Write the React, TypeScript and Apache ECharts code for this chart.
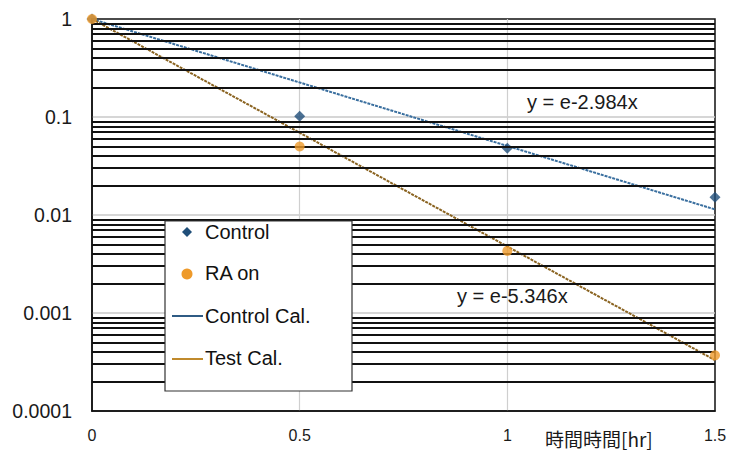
import React, { useEffect, useRef } from "react";
import * as echarts from "echarts";

const hours = [0, 0.5, 1, 1.5];
const controlValues = [1, 0.102, 0.048, 0.0152];
const raOnValues = [1, 0.05, 0.0043, 0.00037];
const controlFitX = [0, 1.5];
const controlFitY = [1, 0.0114];
const testFitX = [0, 1.5];
const testFitY = [1, 0.00033];
const yTickLabels = ["1", "0.1", "0.01", "0.001", "0.0001"];
const xTickLabels = ["0", "0.5", "1", "1.5"];
const minorMultipliers = [2, 3, 4, 5, 6, 7, 8, 9];
const decades = [0.0001, 0.001, 0.01, 0.1];
const controlEquation = "y = e-2.984x";
const testEquation = "y = e-5.346x";
const xTitle = "時間時間[hr]";
const legendNames = ["Control", "RA on", "Control Cal.", "Test Cal."];

const FONT = "Liberation Sans, Arial, sans-serif";

export default function App() {
  const ref = useRef<HTMLDivElement>(null);
  useEffect(() => {
    if (!ref.current) return;
    const chart = echarts.init(ref.current, undefined, { renderer: "svg" });
    const minorLines: { yAxis: number }[] = [];
    decades.forEach((d) =>
      minorMultipliers.forEach((m) => minorLines.push({ yAxis: +(d * m).toPrecision(2) }))
    );

    const fmtY = (v: number) => {
      const s = Number(v.toPrecision(1)).toString();
      return yTickLabels.includes(s) ? s : "";
    };

    const option: any = {
      animation: false,
      backgroundColor: "#ffffff",
      grid: {
        left: 92,
        right: 22,
        top: 19,
        bottom: 39,
        show: true,
        borderColor: "#111",
        borderWidth: 1.5,
        backgroundColor: "transparent",
      },
      xAxis: {
        type: "value",
        min: 0,
        max: 1.5,
        interval: 0.5,
        axisLine: { show: true, lineStyle: { color: "#111", width: 1.5 } },
        axisTick: { show: false },
        axisLabel: {
          margin: 16,
          fontSize: 16,
          fontFamily: FONT,
          color: "#1a1a1a",
          formatter: (v: number) => xTickLabels[Math.round(v / 0.5)] ?? String(v),
        },
        splitLine: {
          show: true,
          showMinLine: false,
          showMaxLine: false,
          lineStyle: { color: "#cfcfcf", width: 1.2 },
        },
      },
      yAxis: {
        type: "log",
        logBase: 10,
        min: 0.0001,
        max: 1,
        axisLine: { show: true, lineStyle: { color: "#111", width: 1.5 } },
        axisTick: { show: false },
        axisLabel: {
          margin: 20,
          fontSize: 19.5,
          fontFamily: FONT,
          color: "#1a1a1a",
          formatter: fmtY,
        },
        splitLine: {
          show: true,
          showMinLine: false,
          showMaxLine: false,
          lineStyle: { color: "#c8c8c8", width: 1.5 },
        },
      },
      series: [
        {
          name: "minor",
          type: "line",
          data: [
            [0, 1],
            [1.5, 0.0001],
          ],
          z: 1,
          silent: true,
          showSymbol: false,
          lineStyle: { opacity: 0 },
          markLine: {
            silent: true,
            precision: 10,
            symbol: ["none", "none"],
            label: { show: false },
            lineStyle: { color: "#111", width: 1.8, type: "solid" },
            emphasis: { disabled: true },
            data: minorLines,
          },
        },
        {
          name: "Control Cal.",
          type: "line",
          z: 3,
          showSymbol: false,
          data: controlFitX.map((x, i) => [x, controlFitY[i]]),
          lineStyle: { color: "#3a6f9f", width: 2, type: [3, 1] },
        },
        {
          name: "Test Cal.",
          type: "line",
          z: 3,
          showSymbol: false,
          data: testFitX.map((x, i) => [x, testFitY[i]]),
          lineStyle: { color: "#8a6320", width: 2, type: [3, 1] },
        },
        {
          name: "Control",
          type: "scatter",
          z: 4,
          symbol: "diamond",
          symbolSize: 11,
          itemStyle: { color: "#1f4e79" },
          data: hours.map((x, i) => [x, controlValues[i]]),
        },
        {
          name: "RA on",
          type: "scatter",
          z: 5,
          symbol: "circle",
          symbolSize: 10,
          itemStyle: { color: "#ee9a2a" },
          data: hours.map((x, i) => [x, raOnValues[i]]),
        },
      ],
      graphic: [
        {
          type: "text",
          x: 527,
          y: 102,
          z: 10,
          style: {
            text: controlEquation,
            font: `20px ${FONT}`,
            fill: "#1a1a1a",
            verticalAlign: "middle",
          },
        },
        {
          type: "text",
          x: 457,
          y: 296,
          z: 10,
          style: {
            text: testEquation,
            font: `20px ${FONT}`,
            fill: "#1a1a1a",
            verticalAlign: "middle",
          },
        },
        {
          type: "text",
          x: 545,
          y: 438,
          z: 10,
          style: {
            text: xTitle,
            font: `19px "Noto Sans CJK JP", sans-serif`,
            fill: "#1a1a1a",
            verticalAlign: "middle",
          },
        },
        {
          type: "group",
          z: 20,
          children: [
            {
              type: "rect",
              shape: { x: 165, y: 221, width: 187, height: 170 },
              style: { fill: "#fff", stroke: "#333", lineWidth: 1.2 },
              z: 20,
            },
            {
              type: "polygon",
              shape: {
                points: [
                  [187, 227],
                  [192, 232],
                  [187, 237],
                  [182, 232],
                ],
              },
              style: { fill: "#1f4e79" },
              z: 21,
            },
            {
              type: "circle",
              shape: { cx: 187, cy: 274, r: 5.5 },
              style: { fill: "#ee9a2a" },
              z: 21,
            },
            {
              type: "line",
              shape: { x1: 172, y1: 316, x2: 203, y2: 316 },
              style: { stroke: "#2f5b84", lineWidth: 2 },
              z: 21,
            },
            {
              type: "line",
              shape: { x1: 172, y1: 359, x2: 203, y2: 359 },
              style: { stroke: "#c08a2c", lineWidth: 2 },
              z: 21,
            },
            ...legendNames.map((n, i) => ({
              type: "text",
              x: 205,
              y: [232, 273, 316, 358][i],
              z: 21,
              style: {
                text: n,
                font: `20px ${FONT}`,
                fill: "#111",
                verticalAlign: "middle",
              },
            })),
          ],
        },
      ],
    };
    chart.setOption(option);
    return () => chart.dispose();
  }, []);
  return (
    <div
      ref={ref}
      style={{ position: "fixed", left: 0, top: 0, width: 737, height: 450 }}
    />
  );
}
